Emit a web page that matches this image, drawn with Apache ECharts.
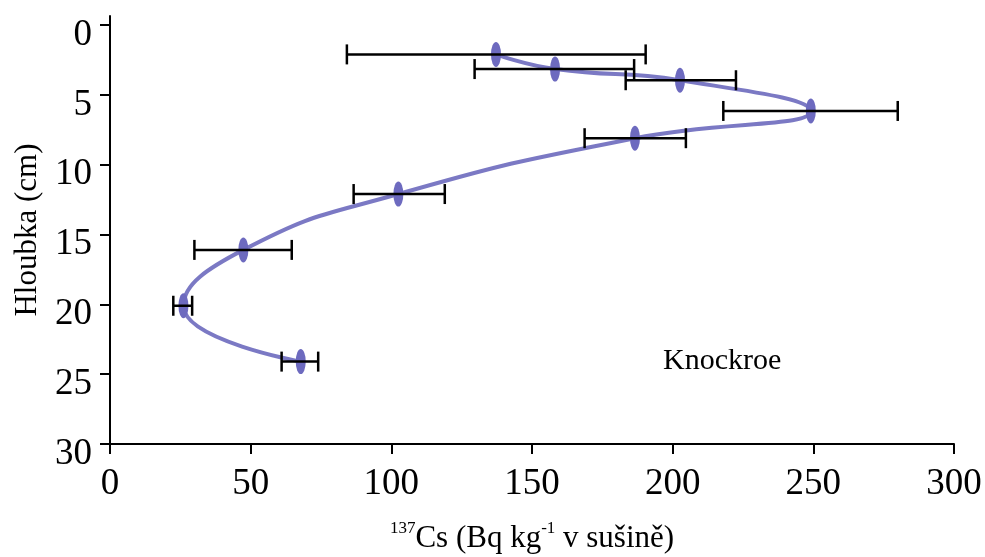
<!DOCTYPE html>
<html>
<head>
<meta charset="utf-8">
<script src="https://cdn.jsdelivr.net/npm/echarts@6/dist/echarts.min.js"></script>
<style>
html,body{margin:0;padding:0;background:#fff;}
#chart{width:985px;height:557px;}
</style>
</head>
<body>
<div id="chart"></div>
<script>
// Data
const depths = [2.1, 3.15, 3.95, 6.15, 8.1, 12.1, 16.1, 20.1, 24.1];
const cs137 = [137.2, 158.2, 202.6, 249.1, 186.6, 102.5, 47.4, 26.1, 67.8];
const errLow = [84.2, 129.6, 183.3, 218.0, 168.7, 86.6, 30.0, 22.5, 61.0];
const errHigh = [190.4, 186.3, 222.5, 280.0, 204.7, 119.0, 64.6, 29.2, 74.0];
const xTicks = [0, 50, 100, 150, 200, 250, 300];
const yTicks = [0, 5, 10, 15, 20, 25, 30];
const siteLabel = 'Knockroe';

const lineData = depths.map((d, i) => [cs137[i], d]);
const errData = depths.map((d, i) => [errLow[i], errHigh[i], d]);

const font = 'Liberation Serif, Times New Roman, serif';
const chart = echarts.init(document.getElementById('chart'));
chart.setOption({
  animation: false,
  backgroundColor: '#ffffff',
  grid: {left: 110, right: 31, top: 16, bottom: 113, containLabel: false, outerBoundsMode: 'none'},
  xAxis: {
    type: 'value', min: 0, max: 300, interval: 50, position: 'bottom',
    axisLine: {show: true, onZero: false, lineStyle: {color: '#000', width: 2}},
    axisTick: {show: true, inside: false, length: 10, lineStyle: {color: '#000', width: 2}},
    splitLine: {show: false},
    axisLabel: {color: '#000', fontFamily: font, fontSize: 37, margin: 22,
      customValues: xTicks, formatter: v => String(v)},
    name: '{sup|137}{main|Cs (Bq kg}{sup|-1}{main| v sušině)}',
    nameLocation: 'middle', nameGap: 76,
    nameTextStyle: {
      rich: {
        main: {fontFamily: font, fontSize: 31, color: '#000', verticalAlign: 'bottom', lineHeight: 34},
        sup: {fontFamily: font, fontSize: 17, color: '#000', verticalAlign: 'top', lineHeight: 34, padding: [0, 0, 14, 0]}
      }
    }
  },
  yAxis: {
    type: 'value', inverse: true, min: -0.65, max: 30,
    axisLine: {show: true, onZero: false, lineStyle: {color: '#000', width: 2}},
    axisTick: {show: true, inside: false, length: 10, lineStyle: {color: '#000', width: 2}, customValues: yTicks},
    splitLine: {show: false},
    axisLabel: {color: '#000', margin: 18,
      customValues: yTicks, formatter: v => '{t|' + v + '}',
      rich: {t: {fontFamily: font, fontSize: 37, color: '#000', padding: [20, 0, 0, 0]}}},
    name: 'Hloubka (cm)', nameLocation: 'middle', nameGap: 67, nameRotate: 90,
    nameTextStyle: {fontFamily: font, fontSize: 31, color: '#000'}
  },
  series: [
    {
      type: 'line', data: lineData, smooth: 0.5,
      lineStyle: {color: '#7b79c4', width: 4},
      symbol: 'circle', symbolSize: [10, 25],
      itemStyle: {color: '#6d6abf'},
      z: 2
    },
    {
      type: 'custom', z: 3,
      data: errData,
      renderItem: function (params, api) {
        const lo = api.coord([api.value(0), api.value(2)]);
        const hi = api.coord([api.value(1), api.value(2)]);
        const h = 10;
        const st = {stroke: '#000', lineWidth: 2.5};
        return {type: 'group', children: [
          {type: 'line', shape: {x1: lo[0], y1: lo[1], x2: hi[0], y2: hi[1]}, style: st},
          {type: 'line', shape: {x1: lo[0], y1: lo[1] - h, x2: lo[0], y2: lo[1] + h}, style: st},
          {type: 'line', shape: {x1: hi[0], y1: hi[1] - h, x2: hi[0], y2: hi[1] + h}, style: st}
        ]};
      }
    }
  ],
  graphic: [{
    type: 'text', left: 663, top: 346,
    style: {text: siteLabel, fontFamily: font, fontSize: 30, fill: '#000'}
  }]
});
</script>
</body>
</html>
